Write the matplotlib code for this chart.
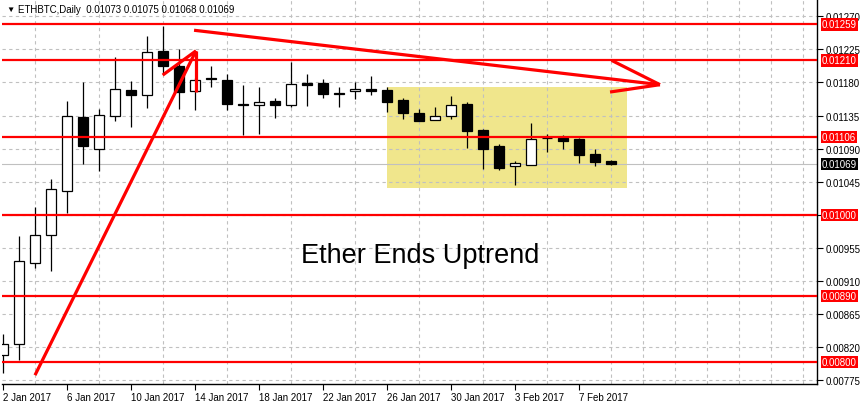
import matplotlib
matplotlib.use('Agg')
import matplotlib.pyplot as plt
import matplotlib.dates as mdates
import matplotlib.transforms as mtransforms
from matplotlib.patches import Rectangle
import pandas as pd

# daily ETHBTC candles, 2 Jan .. 9 Feb 2017
dates = pd.date_range('2017-01-02', '2017-02-09', freq='D')
opens = [0.00809, 0.00824, 0.00934, 0.00972, 0.01033, 0.01133, 0.01090, 0.01135,
         0.01170, 0.01163, 0.01223, 0.01202, 0.01168, 0.01186, 0.01184, 0.01151,
         0.01150, 0.01155, 0.01150, 0.01179, 0.01179, 0.01166, 0.01168, 0.01171,
         0.01170, 0.01156, 0.01139, 0.01129, 0.01135, 0.01151, 0.01115, 0.01094,
         0.01066, 0.01068, 0.01105, 0.01105, 0.01103, 0.01083, 0.01073]
highs = [0.00838, 0.00971, 0.01010, 0.01049, 0.01155, 0.01180, 0.01144, 0.01214,
         0.01182, 0.01243, 0.01257, 0.01226, 0.01186, 0.01202, 0.01192, 0.01177,
         0.01174, 0.01159, 0.01208, 0.01192, 0.01185, 0.01174, 0.01181, 0.01189,
         0.01174, 0.01159, 0.01144, 0.01146, 0.01162, 0.01154, 0.01117, 0.01096,
         0.01073, 0.01125, 0.01110, 0.01109, 0.01105, 0.01089, 0.01075]
lows = [0.00785, 0.00803, 0.00928, 0.00924, 0.01003, 0.01069, 0.01060, 0.01128,
        0.01119, 0.01145, 0.01192, 0.01144, 0.01143, 0.01174, 0.01143, 0.01108,
        0.01110, 0.01132, 0.01147, 0.01148, 0.01159, 0.01147, 0.01158, 0.01163,
        0.01140, 0.01130, 0.01128, 0.01129, 0.01130, 0.01091, 0.01062, 0.01061,
        0.01040, 0.01068, 0.01086, 0.01089, 0.01071, 0.01066, 0.01068]
closes = [0.00824, 0.00937, 0.00973, 0.01035, 0.01134, 0.01094, 0.01136, 0.01171,
          0.01163, 0.01222, 0.01202, 0.01167, 0.01184, 0.01185, 0.01151, 0.01150,
          0.01154, 0.01150, 0.01178, 0.01177, 0.01165, 0.01165, 0.01171, 0.01168,
          0.01154, 0.01138, 0.01128, 0.01135, 0.01150, 0.01114, 0.01090, 0.01064,
          0.01070, 0.01103, 0.01104, 0.01101, 0.01082, 0.01072, 0.01069]

levels = [0.01259, 0.01210, 0.01106, 0.01000, 0.00890, 0.00800]
last_price = 0.01069
price_ticks = [0.00775, 0.00820, 0.00865, 0.00910, 0.00955, 0.01000, 0.01045,
               0.01090, 0.01135, 0.01180, 0.01225, 0.01270]

# drawn objects: up trend arrow, down trend arrow, consolidation box
up_days = [2.0, 12.06]
up_prices = [0.00782, 0.01223]
up_head_days = [9.98, 12.06]
up_head_prices = [0.01190, 0.01167]
down_days = [11.94, 41.06]
down_prices = [0.01251, 0.01177]
down_head_days = [38.04, 37.94]
down_head_prices = [0.01210, 0.01167]
zone_days = [24.02, 38.98]
zone_prices = [0.01037, 0.011735]

plt.rcParams['font.family'] = ['Liberation Sans', 'DejaVu Sans']

fig = plt.figure(figsize=(8.6, 4.06), dpi=100)
ax = fig.add_axes([2 / 860, 21 / 406, 815 / 860, 385 / 406])

x = mdates.date2num(dates)
x0 = x[0]

w = 0.66
for xi, o, h, l, c in zip(x, opens, highs, lows, closes):
    ax.vlines(xi, l, h, color='black', lw=0.9, zorder=3)
    fc = 'white' if c >= o else 'black'
    ax.add_patch(Rectangle((xi - w / 2, min(o, c)), w, abs(c - o),
                           fc=fc, ec='black', lw=0.9, zorder=4))

ax.add_patch(Rectangle((x0 + zone_days[0], zone_prices[0]),
                       zone_days[1] - zone_days[0], zone_prices[1] - zone_prices[0],
                       fc='#f0e68c', ec='none', zorder=0.2))

for lv in levels:
    ax.axhline(lv, color='red', lw=1.6, zorder=5)
ax.axhline(last_price, color='#c0c0c0', lw=0.8, zorder=1)

red = dict(color='red', lw=2.3, zorder=6, solid_capstyle='butt')
ax.plot([x0 + d for d in up_days], up_prices, **red)
for d, p in zip(up_head_days, up_head_prices):
    ax.plot([x0 + up_days[1], x0 + d], [up_prices[1], p], **red)
ax.plot([x0 + d for d in down_days], down_prices, **red)
for d, p in zip(down_head_days, down_head_prices):
    ax.plot([x0 + down_days[1], x0 + d], [down_prices[1], p], **red)

ax.set_xlim(x0 - 1 / 16, x0 + 814 / 16)
ax.set_ylim(0.0077, 0.012935)

# axes styling like the trading terminal
for s in ['top', 'left']:
    ax.spines[s].set_visible(False)
for s in ['right', 'bottom']:
    ax.spines[s].set_linewidth(1.0)

ax.yaxis.tick_right()
ax.set_yticks(price_ticks)
# a level label sits on top of the 0.01000 tick, so leave that one blank
ax.set_yticklabels(['' if t in levels else f'{t:.5f}' for t in price_ticks])
ax.tick_params(axis='y', direction='out', length=4, width=0.8, labelsize=7, pad=2)

major = x[::4]
ax.set_xticks(major)
ax.set_xticklabels([f"{d.day} {d.strftime('%b %Y')}" for d in dates[::4]],
                   ha='left')
ax.set_xticks([x0 + k for k in range(2, 51, 2)], minor=True)
ax.tick_params(axis='x', which='major', direction='out', length=4, width=0.8,
               labelsize=7, pad=2)
ax.tick_params(axis='x', which='minor', length=0)

ax.set_axisbelow(True)
ax.grid(axis='y', color='#c0c0c0', ls=(0, (3, 3)), lw=0.8)
ax.grid(axis='x', which='minor', color='#c0c0c0', ls=(0, (3, 3)), lw=0.8)

tr = mtransforms.blended_transform_factory(ax.transAxes, ax.transData)
for lv in levels:
    ax.text(1.006, lv, f'{lv:.5f}', transform=tr, color='white', fontsize=7,
            va='center', ha='left', zorder=10, clip_on=False,
            bbox=dict(boxstyle='square,pad=0.12', fc='red', ec='none'))
ax.text(1.006, last_price, f'{last_price:.5f}', transform=tr, color='white',
        fontsize=7, va='center', ha='left', zorder=10, clip_on=False,
        bbox=dict(boxstyle='square,pad=0.12', fc='black', ec='none'))

fig.text(6 / 860, 1 - 10 / 406, '\u25bc', fontsize=6, va='center', ha='left')
fig.text(18 / 860, 1 - 10 / 406,
         f'ETHBTC,Daily  {opens[-1]:.5f} {highs[-1]:.5f} {lows[-1]:.5f} {closes[-1]:.5f}',
         fontsize=7, va='center', ha='left')

fig.text(420.5 / 860, 1 - 263 / 406, 'Ether Ends Uptrend', fontsize=19.5,
         ha='center', va='baseline')

fig.savefig('out.png', dpi=100)
